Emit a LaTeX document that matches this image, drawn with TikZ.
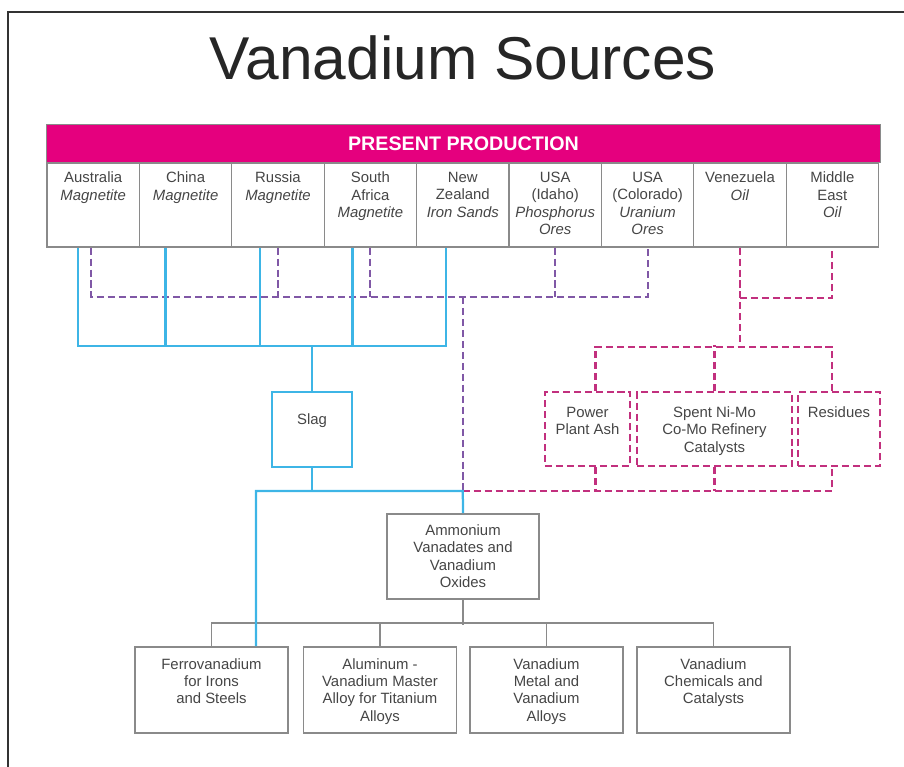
\documentclass[tikz,border=0pt]{standalone}
\usepackage{fontspec}
\setmainfont{Liberation Sans}
\usetikzlibrary{calc}
\definecolor{vmagenta}{HTML}{E5007E}
\definecolor{vblue}{HTML}{3DB5E6}
\definecolor{vpurple}{HTML}{8058A6}
\definecolor{vpink}{HTML}{C2307E}
\definecolor{vgray}{HTML}{8A8A8A}
\definecolor{vtext}{HTML}{454545}
\newcommand{\toptext}[4]{\parbox[c][#1][t]{#2}{\centering\vspace*{#3}#4}}
\begin{document}
\begin{tikzpicture}[x=0.025cm,y=-0.025cm,
		every node/.style={font=\fontsize{10.6}{12.4}\selectfont,text=vtext,inner sep=0pt},
		cell/.style={draw=vgray,line width=0.8pt},
		grbox/.style={draw=vgray,line width=1.2pt},
		slagbox/.style={draw=vblue,line width=1.6pt},
		oilbox/.style={draw=vpink,line width=1.5pt,dash pattern=on 5pt off 2.8pt},
		feed/.style={vblue,line width=1.6pt},
		ore/.style={vpurple,line width=1.5pt,dash pattern=on 5pt off 2.8pt},
		oil/.style={vpink,line width=1.5pt,dash pattern=on 5pt off 2.8pt},
		link/.style={vgray,line width=1.2pt}]
		\useasboundingbox (0,0) rectangle (904,767);
		\draw[line width=1.8pt,black!80] (8,767) -- (8,12) -- (904,12);
		
		\node[font=\fontsize{43}{50}\selectfont,text=black!85] (title) at (463,58) {Vanadium Sources};
		\node[fill=vmagenta,draw=vgray,line width=0.8pt,minimum width=20.825cm,minimum height=0.95cm,text=white,font=\bfseries\fontsize{14}{16}\selectfont] (prod) at (463.5,143.5) {PRESENT PRODUCTION};
		
		\node[cell] (aus) at (93.2,205) {\toptext{2.1cm}{2.31cm}{6.5pt}{Australia\\\textit{Magnetite}}};
		\node[cell] (chn) at (185.6,205) {\toptext{2.1cm}{2.31cm}{6.5pt}{China\\\textit{Magnetite}}};
		\node[cell] (rus) at (278,205) {\toptext{2.1cm}{2.31cm}{6.5pt}{Russia\\\textit{Magnetite}}};
		\node[cell] (saf) at (370.4,205) {\toptext{2.1cm}{2.31cm}{6.5pt}{South\\Africa\\\textit{Magnetite}}};
		\node[cell] (nzl) at (462.8,205) {\toptext{2.1cm}{2.31cm}{6.5pt}{New\\Zealand\\\textit{Iron Sands}}};
		\node[cell] (ida) at (555.2,205) {\toptext{2.1cm}{2.31cm}{6.5pt}{USA\\(Idaho)\\\textit{Phosphorus}\\\textit{Ores}}};
		\node[cell] (col) at (647.6,205) {\toptext{2.1cm}{2.31cm}{6.5pt}{USA\\(Colorado)\\\textit{Uranium}\\\textit{Ores}}};
		\node[cell] (ven) at (740,205) {\toptext{2.1cm}{2.31cm}{6.5pt}{Venezuela\\\textit{Oil}}};
		\node[cell] (mde) at (832.4,205) {\toptext{2.1cm}{2.31cm}{6.5pt}{Middle\\East\\\textit{Oil}}};
		
		\node[slagbox] (slag) at (312,429.5) {\toptext{1.875cm}{2cm}{15.5pt}{Slag}};
		\node[oilbox] (ash) at (587.5,429) {\toptext{1.85cm}{2.125cm}{10.5pt}{Power\\Plant Ash}};
		\node[oilbox] (spent) at (714.5,429) {\toptext{1.85cm}{3.875cm}{10.5pt}{Spent Ni-Mo\\Co-Mo Refinery\\Catalysts}};
		\node[oilbox] (res) at (839,429) {\toptext{1.85cm}{2.05cm}{10.5pt}{Residues}};
		
		\node[grbox] (amm) at (463,556.5) {\toptext{2.125cm}{3.8cm}{7.5pt}{Ammonium\\Vanadates and\\Vanadium\\Oxides}};
		
		\node[grbox] (fer) at (211.5,690) {\toptext{2.15cm}{3.825cm}{8pt}{Ferrovanadium\\for Irons\\and Steels}};
		\node[grbox] (alu) at (380,690) {\toptext{2.15cm}{3.825cm}{8pt}{Aluminum -\\Vanadium Master\\Alloy for Titanium\\Alloys}};
		\node[grbox] (met) at (546.5,690) {\toptext{2.15cm}{3.825cm}{8pt}{Vanadium\\Metal and\\Vanadium\\Alloys}};
		\node[grbox] (chem) at (713.5,690) {\toptext{2.15cm}{3.825cm}{8pt}{Vanadium\\Chemicals and\\Catalysts}};
		
		\coordinate (pj) at (462.8,297);
		\coordinate (lj) at (462.8,491);
		\coordinate (bj) at (312,346);
		\coordinate (fj) at (256,491);
		\coordinate (oj) at (832,490);
		
		\draw[ore] (aus.south) ++(-2,0) |- (col.south |- pj) -- (col.south);
		\draw[ore] (rus.south) -- (rus.south |- pj);
		\draw[ore] (saf.south) -- (saf.south |- pj);
		\draw[ore] (ida.south) -- (ida.south |- pj);
		\draw[ore] (pj) -- (lj);
		
		\draw[oil] (ven.south) -- ++(0,99) coordinate (sj);
		\draw[oil] (ven.south) ++(0,50) -| (mde.south);
		\draw[oil] (ash.north) ++(8,0) |- (sj);
		\draw[oil] (res.north) ++(-7,0) |- (sj);
		\draw[oil] (spent.north) -- ++(0,-46);
		\draw[oil] (lj) -| (res.south -| oj);
		\draw[oil] (ash.south) ++(8,0) -- ++(0,24);
		\draw[oil] (spent.south) -- ++(0,24);
		
		\draw[link] (amm.south) -- ++(0,25);
		\draw[link] (fer.north) -- ++(0,-23) -| (chem.north);
		\draw[link] (alu.north) -- ++(0,-23);
		\draw[link] (met.north) -- ++(0,-23);
		
		\draw[feed] (aus.south) ++(-15,0) |- (bj);
		\draw[feed] (nzl.south) ++(-17,0) |- (bj);
		\draw[feed] (chn.south) ++(-20,0) -- ++(0,99);
		\draw[feed] (rus.south) ++(-18,0) -- ++(0,99);
		\draw[feed] (saf.south) ++(-18,0) -- ++(0,99);
		\draw[feed] (bj) -- (slag.north);
		\draw[feed] (slag.south) -- (slag.south |- lj);
		\draw[feed] (amm.north) -- (lj) -- (fj) -- (fj |- fer.north);
	\end{tikzpicture}
\end{document}
